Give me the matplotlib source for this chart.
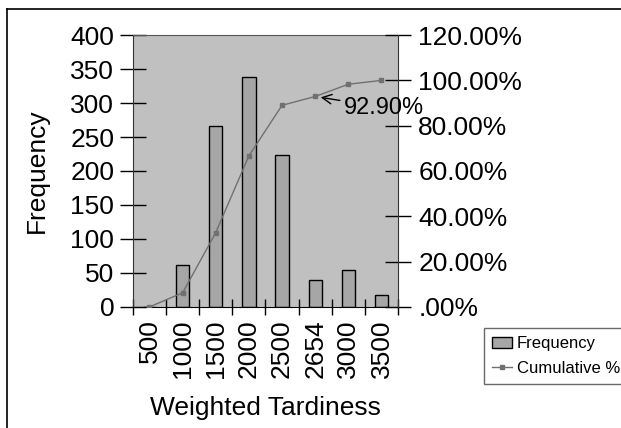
import matplotlib as mpl
import matplotlib.pyplot as plt
from matplotlib.lines import Line2D
from matplotlib.patches import Patch

mpl.rcParams.update({
    "font.family": ["Liberation Sans", "DejaVu Sans"],
    "font.size": 19,
})

# histogram bins and values
bins = ["500", "1000", "1500", "2000", "2500", "2654", "3000", "3500"]
frequency = [0, 62, 266, 339, 223, 39, 54, 17]
cumulative = [0.0, 6.2, 32.8, 66.7, 89.0, 92.9, 98.3, 100.0]

x = list(range(len(bins)))

fig = plt.figure(figsize=(6.21, 4.28), dpi=100)
ax = fig.add_axes([0.214, 0.283, 0.427, 0.635])
ax.set_facecolor("#c0c0c0")

ax.bar(x, frequency, width=0.4, color="#a6a6a6", edgecolor="black", linewidth=1, zorder=2)
ax.set_xlim(-0.45, 7.5)
ax.set_ylim(0, 400)
ax.set_yticks(range(0, 401, 50))
ax.set_xticks([i - 0.5 for i in range(len(bins) + 1)])
ax.set_xticklabels([])
ax.set_xticks(x, minor=True)
ax.set_xticklabels(bins, minor=True, rotation=90)
ax.tick_params(axis="x", which="minor", length=0, pad=9)
ax.tick_params(axis="x", which="major", direction="inout", length=11, width=1)
ax.tick_params(axis="y", direction="inout", length=19, width=1, pad=4)
ax.set_xlabel("Weighted Tardiness", labelpad=13)
ax.set_ylabel("Frequency", labelpad=15)
ax.spines["right"].set_visible(False)
ax.spines["top"].set_color("#555555")
ax.spines["left"].set_color("#333333")

ax2 = ax.twinx()
ax2.plot(x, cumulative, color="#707070", linewidth=1, marker="s", markersize=3.5, zorder=3)
ax2.set_ylim(0, 120)
ax2.set_yticks(range(0, 121, 20))
ax2.set_yticklabels([".00%"] + ["%.2f%%" % v for v in range(20, 121, 20)])
ax2.tick_params(axis="y", direction="inout", length=19, width=1, pad=5)
ax2.spines["left"].set_visible(False)
ax2.spines["top"].set_visible(False)
ax2.spines["bottom"].set_visible(False)
ax2.spines["right"].set_color("#333333")

ax2.annotate("92.90%", xy=(5, cumulative[5]), xytext=(5.87, 88),
             fontsize=17, ha="left", va="center",
             arrowprops=dict(arrowstyle="->", color="black", linewidth=1, shrinkA=1, shrinkB=4))

handles = [Patch(facecolor="#a6a6a6", edgecolor="black", linewidth=1),
           Line2D([], [], color="#707070", linewidth=1, marker="s", markersize=3)]
leg = fig.legend(handles, ["Frequency", "Cumulative %"], loc="lower left",
                 bbox_to_anchor=(0.779, 0.103), fontsize=12, fancybox=False,
                 edgecolor="#444444", handlelength=1.2, handletextpad=0.3,
                 borderpad=0.5, labelspacing=0.55, borderaxespad=0)
leg.get_frame().set_linewidth(1)

# border around the chart (left and top edges visible)
fig.add_artist(Line2D([7 / 621, 7 / 621], [0, 1 - 9 / 428], transform=fig.transFigure,
                      color="black", linewidth=1.2))
fig.add_artist(Line2D([7 / 621, 1], [1 - 9 / 428, 1 - 9 / 428], transform=fig.transFigure,
                      color="black", linewidth=1.2))

fig.savefig("out.png", dpi=100)
